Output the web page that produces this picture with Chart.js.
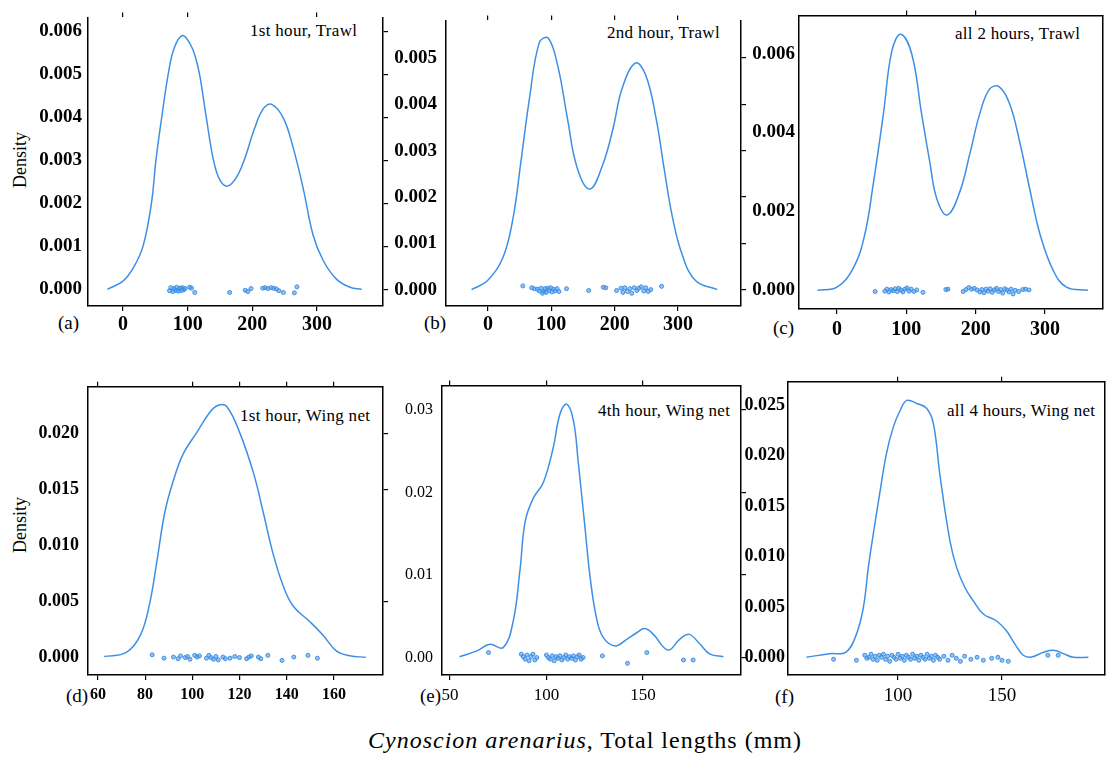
<!DOCTYPE html>
<html>
<head>
<meta charset="utf-8">
<script src="https://cdn.jsdelivr.net/npm/chart.js@4.4.0/dist/chart.umd.min.js"></script>
<style>
  body { margin: 0; background: #fff; }
  #page { position: relative; width: 1106px; height: 759px; overflow: hidden; font-family: "Liberation Serif", "Times New Roman", serif; color: #000; }
  #page canvas { position: absolute; }
  .lbl { position: absolute; white-space: nowrap; line-height: 1; font-family: "Liberation Serif", "Times New Roman", serif; }
  .title { font-size: 17px; letter-spacing: 0.3px; }
  .tag { font-size: 19px; }
  .dens { font-size: 18px; width: 80px; text-align: center; transform: rotate(-90deg); }
  .xtitle { font-size: 24px; letter-spacing: 1px; }
</style>
</head>
<body>
<div id="page">
  <div class="lbl title" style="left:250px;top:22px">1st hour, Trawl</div>
  <div class="lbl title" style="left:607px;top:24px">2nd hour, Trawl</div>
  <div class="lbl title" style="left:955px;top:25px">all 2 hours, Trawl</div>
  <div class="lbl title" style="left:240px;top:407px">1st hour, Wing net</div>
  <div class="lbl title" style="left:598px;top:402px">4th hour, Wing net</div>
  <div class="lbl title" style="left:947px;top:402px">all 4 hours, Wing net</div>

  <div class="lbl tag" style="left:58px;top:313px">(a)</div>
  <div class="lbl tag" style="left:424px;top:313px">(b)</div>
  <div class="lbl tag" style="left:773px;top:318px">(c)</div>
  <div class="lbl tag" style="left:66px;top:686px">(d)</div>
  <div class="lbl tag" style="left:420px;top:686px">(e)</div>
  <div class="lbl tag" style="left:775px;top:687px">(f)</div>

  <div class="lbl dens" style="left:-20px;top:151px">Density</div>
  <div class="lbl dens" style="left:-20px;top:516px">Density</div>

  <div class="lbl xtitle" style="left:368px;top:728px"><i>Cynoscion arenarius</i>, Total lengths (mm)</div>
</div>

<script>
// density curves: [length, density]
const curveA = [[-24, 0], [0.5, 0.0002], [16, 0.0005], [31, 0.001], [44, 0.002], [51, 0.003], [60, 0.004], [70, 0.005], [79, 0.0056], [92, 0.0059], [104, 0.0057], [112, 0.0054], [119, 0.00495], [129, 0.00398], [140, 0.003], [150, 0.00254], [162, 0.0024], [176, 0.00262], [189, 0.00307], [202, 0.00368], [217, 0.0042], [230, 0.0043], [248, 0.00398], [263, 0.0033], [279, 0.00232], [294, 0.00126], [310, 0.00066], [330, 0.00024], [351, 0.00005], [369, 0]];
const curveB = [[-26, 0], [-1, 0.00019], [23, 0.00067], [39, 0.0015], [52, 0.00276], [65, 0.00408], [81, 0.00533], [95, 0.00543], [110, 0.00484], [125, 0.00373], [141, 0.00262], [161, 0.00217], [181, 0.00269], [197, 0.00345], [212, 0.00435], [233, 0.00489], [249, 0.00463], [265, 0.00373], [278, 0.00262], [291, 0.00158], [307, 0.00074], [328, 0.00019], [362, 0]];
const curveC = [[-28, 0], [0, 0.00008], [24, 0.00058], [40, 0.00141], [52, 0.00266], [67, 0.00448], [79, 0.00606], [92, 0.00649], [108, 0.00598], [122, 0.00448], [134, 0.00324], [144, 0.00232], [159, 0.00191], [177, 0.00249], [192, 0.00349], [206, 0.00448], [220, 0.0051], [234, 0.00516], [249, 0.00473], [264, 0.00373], [278, 0.00257], [293, 0.00141], [312, 0.0005], [331, 0.00008], [362, 0]];
const curveD = [[62.7, 0.00009], [72, 0.00046], [78, 0.002], [82, 0.0049], [85, 0.0086], [88.4, 0.013], [92, 0.0158], [96, 0.0181], [102, 0.0201], [107.5, 0.0219], [111, 0.0225], [114.5, 0.0224], [120, 0.0201], [126, 0.0164], [130, 0.013], [134.3, 0.0092], [138.5, 0.0064], [142.7, 0.0046], [149.8, 0.0032], [155.4, 0.002], [161, 0.0006], [166.7, 0.00017], [173.5, 0.00003]];
const curveE = [[55, 0.0001], [64, 0.0008], [70.7, 0.0016], [77.6, 0.0012], [82.8, 0.0044], [86.3, 0.0106], [89, 0.0165], [93.2, 0.0193], [98.4, 0.0212], [103.6, 0.0255], [107, 0.0295], [110.5, 0.0307], [114, 0.0287], [116.5, 0.0236], [120, 0.0157], [122.6, 0.0098], [126, 0.0047], [129.5, 0.0024], [135.5, 0.0014], [141.6, 0.0022], [146.8, 0.003], [151, 0.0035], [155.4, 0.0028], [163, 0.0009], [169, 0.0022], [174, 0.0028], [179.6, 0.0016], [184.8, 0.0004], [191.7, 0.0001]];
const curveF = [[56, 0], [67, 0.00036], [75, 0.00052], [80, 0.0023], [83.3, 0.0049], [85.7, 0.0089], [88, 0.0121], [91.3, 0.0164], [94.5, 0.0203], [97.8, 0.0229], [101, 0.0245], [104.2, 0.0255], [109, 0.0252], [113.8, 0.0247], [117, 0.0232], [120.2, 0.018], [125, 0.0115], [128.2, 0.0089], [132.2, 0.0069], [136.2, 0.0056], [141, 0.0043], [147.4, 0.0036], [152.2, 0.0026], [156.2, 0.0013], [160.2, 0.0002], [164.2, 0.00003], [170, 0.0005], [174.7, 0.0007], [179.5, 0.00036], [184.3, 0], [191.5, 0]];

// jittered observations along the bottom: [length, jitter]
const rugA = [[72, -0.00003], [74, 0.00004], [77, -0.00005], [79, 0.00002], [81, -0.00002], [83, 0.00005], [85, -0.00004], [87, 0.00001], [89, 0.00003], [90, -0.00003], [92, 0.00004], [94, -0.00001], [96, 0.00002], [103, 0.00005], [106, 0.00003], [111, -0.00007], [165, -0.00007], [189, -0.00002], [193, -0.00005], [198, 0.00002], [216, 0.00003], [220, 0.00004], [224, 0.00002], [229, 0.00004], [233, 0.00003], [237, 0.00001], [241, -0.00003], [248, -0.00007], [265, -0.00008], [269, 0.00006]];
const rugB = [[55, 0.00008], [69, 0.00004], [73, 0.00002], [78, 0.00001], [81, -0.00003], [84, 0.00003], [86, -0.00008], [88, -0.00004], [90, 0.00002], [92, -0.00006], [94, 0.00003], [96, -0.00002], [99, 0.00004], [101, -0.00005], [103, 0.00001], [106, -0.00003], [109, 0.00002], [112, -0.00004], [124, 0.00002], [159, -0.00002], [182, 0.00005], [186, 0.00004], [203, -0.00002], [210, 0.00003], [213, -0.00006], [216, 0.00004], [220, -0.00004], [224, 0.00002], [227, -0.00008], [231, 0.00004], [235, -0.00002], [238, 0.00003], [242, 0.00006], [246, -0.00003], [249, 0.00004], [253, -0.00004], [257, 0], [274, 0.00007]];
const rugC = [[55, -0.00003], [69, -0.00002], [72, 0.00003], [75, -0.00004], [78, 0.00002], [81, -0.00001], [84, 0.00004], [87, -0.00003], [89, 0.00005], [92, 0.00001], [95, -0.00004], [98, 0.00003], [101, 0.00006], [104, -0.00002], [107, 0.00003], [111, -0.00003], [115, 0.00001], [124, -0.00005], [157, 0.00002], [160, 0.00003], [182, -0.00003], [186, 0.00002], [190, 0.00007], [194, 0.00003], [198, 0.00005], [202, 0.00001], [206, -0.00004], [209, 0.00002], [212, -0.00006], [215, 0.00003], [218, -0.00002], [221, 0.00004], [224, -0.00005], [227, 0.00001], [230, 0.00005], [233, -0.00003], [236, 0.00002], [239, -0.00007], [242, 0.00004], [245, 0.00001], [248, -0.00004], [251, 0.00003], [254, -0.00009], [257, 0], [262, -0.00003], [268, 0.00002], [272, 0.00003], [277, 0.00001]];
const rugD = [[83, 0.00025], [88, -0.00005], [92, 0.00005], [94, -0.0001], [95, 0.00015], [97, 0], [98, 0.0001], [99, -0.00015], [101, 0.0002], [102, 0.00005], [103, 0.00015], [106, -0.00005], [107, 0.0002], [108, 0], [109, -0.00015], [110, 0.0001], [111, -0.0002], [113, 0.00005], [114, -0.0001], [116, -0.00005], [118, 0.0001], [120, 0], [123, -0.0001], [124, 0.00005], [125, 0.00015], [128, 0.00005], [129, -0.0001], [132, 0.0002], [138, -0.00025], [143, 0.00005], [149, 0.0002], [153, -0.00005]];
const rugE = [[70, 0.0006], [87, 0.0004], [88, 0.0001], [89, -0.0002], [90, 0.0003], [91, -0.0004], [92, 0.0001], [93, 0.0004], [94, -0.0003], [95, 0], [100, 0.0003], [101, 0], [102, -0.0002], [103, 0.0002], [104, -0.0004], [105, 0.0001], [106, -0.0001], [107, 0.0002], [108, -0.0003], [109, 0], [110, 0.0003], [111, -0.0002], [112, 0.0001], [113, -0.0001], [114, 0.0002], [115, -0.0003], [116, 0.0001], [117, 0.0003], [118, -0.0002], [119, 0], [129, 0.0002], [142, -0.0007], [152, 0.0006], [171, -0.0003], [176, -0.0003]];
const rugF = [[69, -0.0002], [80, -0.0003], [84, 0.0002], [85, -0.0001], [86, 0], [87, 0.0003], [88, -0.0002], [89, 0.0001], [90, -0.0003], [91, 0.0002], [92, 0], [93, 0.0003], [94, -0.0002], [95, 0.0001], [96, -0.0004], [97, 0.0002], [98, 0], [99, -0.0002], [100, 0.0003], [101, -0.0001], [102, 0.0001], [103, -0.0003], [104, 0.0002], [105, 0], [106, -0.0002], [107, 0.0003], [108, -0.0001], [109, 0.0001], [110, -0.0003], [111, 0.0002], [112, 0], [113, -0.0002], [114, 0.0003], [115, -0.0001], [116, 0.0001], [117, -0.0003], [118, 0.0002], [119, 0], [120, -0.0002], [122, 0.0001], [124, -0.0003], [126, 0.0002], [128, -0.0001], [130, -0.0004], [132, 0.0001], [135, -0.0002], [138, 0], [141, -0.0003], [145, -0.0001], [148, 0], [150, -0.0003], [153, -0.0004], [172, 0.0002], [177, 0.0002]];

// tick values
const xTicksTrawl = [0, 100, 200, 300];
const xTicksD = [60, 80, 100, 120, 140, 160];
const xTicksE = [50, 100, 150];
const xTicksF = [100, 150];
const topTicksA = [0, 100, 300];
const topTicksC = [100, 200];
const topTicksD = [60, 100, 120, 140, 160];
const yTicksA = [0, 0.001, 0.002, 0.003, 0.004, 0.005, 0.006];
const yTicksB = [0, 0.001, 0.002, 0.003, 0.004, 0.005];
const yTicksC = [0, 0.002, 0.004, 0.006];
const yTicksD = [0, 0.005, 0.010, 0.015, 0.020];
const yTicksE = [0, 0.01, 0.02, 0.03];
const yTicksF = [0, 0.005, 0.010, 0.015, 0.020, 0.025];
const rightTicksD = [0.005, 0.015, 0.020];

const blue = "#3d8fe6";

const panels = [
  { curve: curveA, rug: rugA, box: { l: 88, t: 10, r: 383, b: 306 }, x: [-54, 402], y: [-0.000385, 0.00632],
    xTicks: xTicksTrawl, yTicks: yTicksA, topTicks: topTicksA, rightTicks: yTicksA, topBorder: false, dec: 3,
    yFont: { size: 19, weight: "bold" }, xFont: { size: 20, weight: "bold" }, yPad: 6, xPad: 2 },
  { curve: curveB, rug: rugB, box: { l: 446, t: 10, r: 741, b: 306 }, x: [-66.3, 399.5], y: [-0.000354, 0.00581],
    xTicks: xTicksTrawl, yTicks: yTicksB, topTicks: xTicksTrawl, rightTicks: yTicksB, topBorder: false, dec: 3,
    yFont: { size: 19, weight: "bold" }, xFont: { size: 20, weight: "bold" }, yPad: 9, xPad: 2 },
  { curve: curveC, rug: rugC, box: { l: 799, t: 10, r: 1103, b: 309 }, x: [-54.8, 383.7], y: [-0.000473, 0.00697],
    xTicks: xTicksTrawl, yTicks: yTicksC, topTicks: topTicksC, rightTicks: [], topBorder: true, dec: 3,
    yFont: { size: 19, weight: "bold" }, xFont: { size: 20, weight: "bold" }, yPad: 4, xPad: 4 },
  { curve: curveD, rug: rugD, box: { l: 88, t: 377, r: 383, b: 675 }, x: [55.8, 180.8], y: [-0.00155, 0.02414],
    xTicks: xTicksD, yTicks: yTicksD, topTicks: topTicksD, rightTicks: rightTicksD, topBorder: true, dec: 3,
    yFont: { size: 18, weight: "bold" }, xFont: { size: 16, weight: "bold" }, yPad: 9, xPad: 5 },
  { curve: curveE, rug: rugE, box: { l: 442, t: 377, r: 741, b: 675 }, x: [45.9, 200.8], y: [-0.00212, 0.03294],
    xTicks: xTicksE, yTicks: yTicksE, topTicks: xTicksE, rightTicks: yTicksE, topBorder: true, dec: 2,
    yFont: { size: 16, weight: "normal" }, xFont: { size: 17, weight: "normal" }, yPad: 9, xPad: 5 },
  { curve: curveF, rug: rugF, box: { l: 788, t: 378, r: 1105, b: 675 }, x: [47.1, 199.5], y: [-0.00176, 0.02735],
    xTicks: xTicksF, yTicks: yTicksF, topTicks: xTicksF, rightTicks: [], topBorder: true, dec: 3,
    yFont: { size: 18, weight: "bold" }, xFont: { size: 19, weight: "normal" }, yPad: 3, xPad: 5 }
];

const ML = 75, MR = 15, MT = 10, MB = 45;
const fontFamily = "'Liberation Serif', 'Times New Roman', serif";

function setTicks(vals) {
  return scale => { scale.ticks = vals.map(v => ({ value: v })); };
}

function tickGrid(len) {
  return { drawOnChartArea: false, drawTicks: len > 0, tickLength: len, color: "#000", lineWidth: 1.2 };
}

const page = document.getElementById("page");

panels.forEach(p => {
  const canvas = document.createElement("canvas");
  const w = p.box.r - p.box.l + ML + MR;
  const h = p.box.b - p.box.t + MT + MB;
  canvas.width = w;
  canvas.height = h;
  canvas.style.left = (p.box.l - ML) + "px";
  canvas.style.top = (p.box.t - MT) + "px";
  canvas.style.width = w + "px";
  canvas.style.height = h + "px";
  page.appendChild(canvas);

  const border = { display: true, color: "#000", width: 1.5 };

  new Chart(canvas.getContext("2d"), {
    type: "scatter",
    data: {
      datasets: [
        {
          data: p.curve,
          showLine: true,
          pointRadius: 0,
          borderColor: blue,
          borderWidth: 1.5,
          tension: 0.4,
          fill: false
        },
        {
          data: p.rug,
          pointRadius: 2,
          pointBorderWidth: 1,
          borderColor: blue,
          backgroundColor: "rgba(61,143,230,0.55)"
        }
      ]
    },
    options: {
      responsive: false,
      animation: false,
      devicePixelRatio: 1,
      layout: { padding: 0 },
      plugins: { legend: { display: false }, tooltip: { enabled: false } },
      scales: {
        x: {
          type: "linear", position: "bottom", min: p.x[0], max: p.x[1],
          afterBuildTicks: setTicks(p.xTicks),
          afterFit: s => { s.height = MB; },
          grid: tickGrid(5), border: border,
          ticks: { color: "#000", font: { family: fontFamily, size: p.xFont.size, weight: p.xFont.weight }, padding: p.xPad, autoSkip: false, maxRotation: 0 }
        },
        x2: {
          type: "linear", position: "top", min: p.x[0], max: p.x[1], display: true,
          afterBuildTicks: setTicks(p.topTicks),
          afterFit: s => { s.height = MT; },
          grid: tickGrid(5), border: { display: p.topBorder, color: "#000", width: 1.5 },
          ticks: { display: false }
        },
        y: {
          type: "linear", position: "left", min: p.y[0], max: p.y[1],
          afterBuildTicks: setTicks(p.yTicks),
          afterFit: s => { s.width = ML; },
          grid: tickGrid(0), border: border,
          ticks: { color: "#000", font: { family: fontFamily, size: p.yFont.size, weight: p.yFont.weight }, padding: p.yPad, autoSkip: false,
            callback: v => v.toFixed(p.dec) }
        },
        y2: {
          type: "linear", position: "right", min: p.y[0], max: p.y[1], display: true,
          afterBuildTicks: setTicks(p.rightTicks.length ? p.rightTicks : [p.y[0]]),
          afterFit: s => { s.width = MR; },
          grid: tickGrid(p.rightTicks.length ? 5 : 0), border: border,
          ticks: { display: false }
        }
      }
    }
  });
});
</script>
</body>
</html>
